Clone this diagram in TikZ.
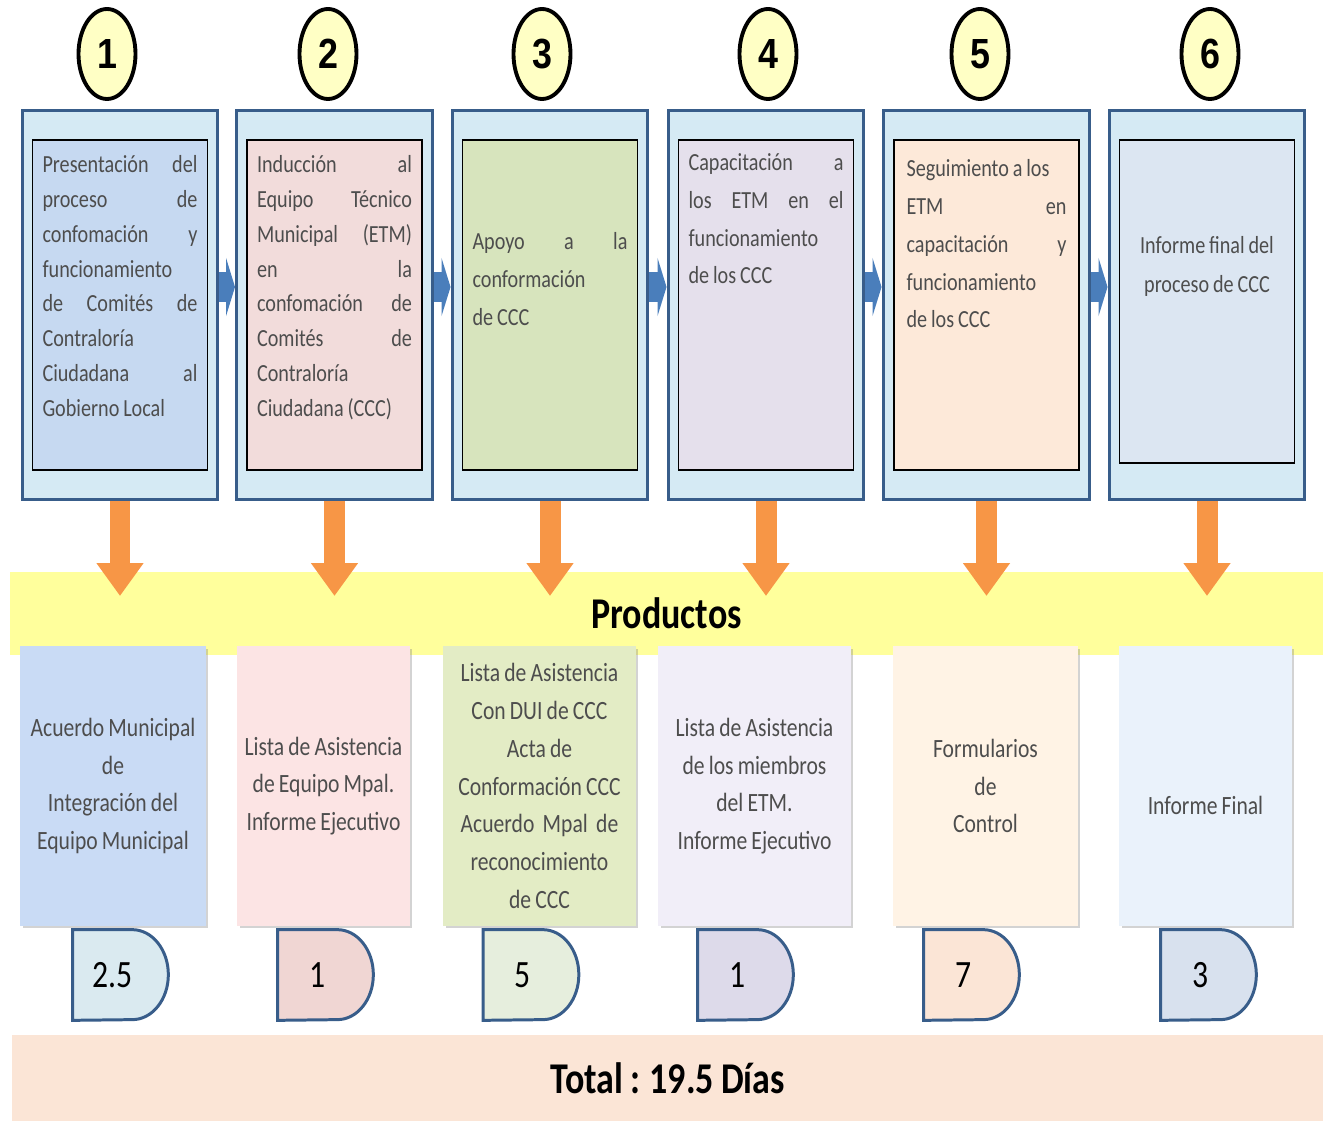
\documentclass[tikz,border=0pt]{standalone}
\usepackage{fontspec}
\setmainfont{Carlito}[FakeStretch=0.82,WordSpace=0.85]
\newfontfamily\numfont{Liberation Sans}[FakeStretch=0.85]
\usetikzlibrary{positioning}
\usetikzlibrary{shapes.geometric}
\usetikzlibrary{arrows.meta}
\usetikzlibrary{shadows}
\definecolor{celeste}{HTML}{D5EAF4}
\definecolor{azulO}{HTML}{385D8A}
\definecolor{azulF}{HTML}{4A7EBB}
\definecolor{amarilloC}{HTML}{FFFFC5}
\definecolor{amarilloB}{HTML}{FFFF9C}
\definecolor{naranja}{HTML}{F79646}
\definecolor{durazno}{HTML}{FBE5D6}
\definecolor{grisT}{HTML}{4D4D4D}
\definecolor{int1}{HTML}{C6D9F1}
\definecolor{int2}{HTML}{F2DCDB}
\definecolor{int3}{HTML}{D7E4BD}
\definecolor{int4}{HTML}{E5E0EC}
\definecolor{int5}{HTML}{FDE9D9}
\definecolor{int6}{HTML}{DCE6F2}
\definecolor{prod1}{HTML}{C9DBF5}
\definecolor{prod2}{HTML}{FCE4E4}
\definecolor{prod3}{HTML}{E3ECC5}
\definecolor{prod4}{HTML}{F1EEF8}
\definecolor{prod5}{HTML}{FFF3E5}
\definecolor{prod6}{HTML}{EAF2FB}
\definecolor{dia1}{HTML}{DAEAF0}
\definecolor{dia2}{HTML}{F0D6D3}
\definecolor{dia3}{HTML}{E6EEDD}
\definecolor{dia4}{HTML}{DDDAEA}
\definecolor{dia5}{HTML}{FBE5D6}
\definecolor{dia6}{HTML}{D8E1EE}

\begin{document}
\begin{tikzpicture}[x=0.02cm,y=-0.02cm,
circulo/.style={draw,ellipse,line width=2.2pt,fill=amarilloC,minimum width=1.14cm,minimum height=1.8cm,inner sep=0pt,font=\numfont\bfseries\fontsize{24}{24}\selectfont},
externo/.style={draw=azulO,line width=1.7pt,fill=celeste,minimum width=3.92cm,minimum height=7.8cm},
interno/.style={draw=black,line width=0.8pt,minimum width=3.5cm,minimum height=6.6cm},
texto/.style={text width=3.1cm,align=flush left,anchor=north,inner sep=0pt,text=grisT,font=\fontsize{14}{19.8}\selectfont},
producto/.style={minimum height=5.6cm,align=center,text=grisT,font=\fontsize{15}{21.5}\selectfont,drop shadow={opacity=0.35,shadow xshift=0.05cm,shadow yshift=-0.05cm}},
dias/.style={minimum width=1.9cm,minimum height=1.8cm,inner sep=0pt},
borde/.style={draw=azulO,line width=1.7pt},
numdia/.style={font=\fontsize{22}{22}\selectfont},
franja/.style={inner sep=0pt,font=\bfseries\fontsize{25}{25}\selectfont},
flechaA/.style={line width=0.6cm,draw=azulF,-{Triangle[length=0.18cm,width=1.16cm]}},
flechaN/.style={line width=0.42cm,draw=naranja,-{Triangle[length=0.66cm,width=0.9cm]}}
]
\useasboundingbox (0,0) rectangle (1323,1121);
%-- pasos
\node[circulo](c1) at (107,54){1};
\node[circulo](c2) at (328,54){2};
\node[circulo](c3) at (542,54){3};
\node[circulo](c4) at (768,54){4};
\node[circulo](c5) at (980,54){5};
\node[circulo](c6) at (1210,54){6};
%--
\node[externo](o1) at (120,305){};
\node[interno,fill=int1](i1) at (o1){};
\node[texto] at ([yshift=-0.32cm]i1.north){Presentación\hfill del\\ proceso\hfill de\\ confomación\hfill y\\ funcionamiento\\ de\hfill Comités\hfill de\\ Contraloría\\ Ciudadana\hfill al\\ Gobierno Local};
%--
\node[externo](o2) at (334.5,305){};
\node[interno,fill=int2](i2) at (o2){};
\node[texto] at ([yshift=-0.32cm]i2.north){Inducción\hfill al\\ Equipo\hfill Técnico\\ Municipal\hfill (ETM)\\ en\hfill la\\ confomación\hfill de\\ Comités\hfill de\\ Contraloría\\ Ciudadana (CCC)};
%--
\node[externo](o3) at (550,305){};
\node[interno,fill=int3](i3) at (o3){};
\node[texto,font=\fontsize{14}{21.5}\selectfont] at ([yshift=-1.86cm]i3.north){Apoyo\hfill a\hfill la\\ conformación\\ de CCC};
%--
\node[externo](o4) at (766,305){};
\node[interno,fill=int4](i4) at (o4){};
\node[texto,font=\fontsize{14}{21.5}\selectfont] at ([yshift=-0.28cm]i4.north){Capacitación\hfill a\\ los\hfill ETM\hfill en\hfill el\\ funcionamiento\\ de los CCC};
%--
\node[externo,minimum width=4.14cm](o5) at (986.5,305){};
\node[interno,fill=int5,minimum width=3.7cm](i5) at (o5){};
\node[texto,text width=3.2cm,font=\fontsize{14}{21.5}\selectfont] at ([yshift=-0.4cm]i5.north){Seguimiento a los\\ ETM\hfill en\\ capacitación\hfill y\\ funcionamiento\\ de los CCC};
%--
\node[externo](o6) at (1207,305){};
\node[interno,fill=int6,minimum height=6.46cm,yshift=0.07cm](i6) at (o6){};
\node[texto,align=flush center,font=\fontsize{14}{22}\selectfont] at ([yshift=-1.94cm]i6.north){Informe final del\\ proceso de CCC};
%-- flechas entre pasos
\draw[flechaA] ([yshift=0.36cm]o1.east) -- ([yshift=0.36cm]o2.west);
\draw[flechaA] ([yshift=0.36cm]o2.east) -- ([yshift=0.36cm]o3.west);
\draw[flechaA] ([yshift=0.36cm]o3.east) -- ([yshift=0.36cm]o4.west);
\draw[flechaA] ([yshift=0.36cm]o4.east) -- ([yshift=0.36cm]o5.west);
\draw[flechaA] ([yshift=0.36cm]o5.east) -- ([yshift=0.36cm]o6.west);
%-- productos
\node[franja,fill=amarilloB,minimum width=26.26cm,minimum height=1.66cm](prod) at (666.5,613.5){Productos};
\coordinate (puntas) at (0,596);
\draw[flechaN] (o1.south) -- (o1.south |- puntas);
\draw[flechaN] (o2.south) -- (o2.south |- puntas);
\draw[flechaN] (o3.south) -- (o3.south |- puntas);
\draw[flechaN] (o4.south) -- (o4.south |- puntas);
\draw[flechaN] (o5.south) -- (o5.south |- puntas);
\draw[flechaN] (o6.south) -- (o6.south |- puntas);
%--
\node[producto,fill=prod1,minimum width=3.72cm](p1) at (113,786){Acuerdo Municipal\\ de\\ Integración del\\ Equipo Municipal};
\node[producto,fill=prod2,minimum width=3.46cm](p2) at (323.5,786){Lista de Asistencia\\ de Equipo Mpal.\\ Informe Ejecutivo};
\node[producto,fill=prod3,minimum width=3.86cm](p3) at (539.5,786){Lista de Asistencia\\ Con DUI de CCC\\ Acta de\\ Conformación CCC\\ Acuerdo\ \ Mpal\ \ de\\ reconocimiento\\ de CCC};
\node[producto,fill=prod4,minimum width=3.86cm](p4) at (754.5,786){Lista de Asistencia\\ de los miembros\\ del ETM.\\ Informe Ejecutivo};
\node[producto,fill=prod5,minimum width=3.7cm](p5) at (985.5,786){Formularios\\ de\\ Control};
\node[producto,fill=prod6,minimum width=3.46cm](p6) at (1205.5,786){};
\node[text=grisT,font=\fontsize{15}{21.5}\selectfont] at ([yshift=-0.38cm]p6.center){Informe Final};
%-- dias
\node[dias](d1) at (120.5,975){};
\draw[borde,fill=dia1] (d1.north west) -- ([xshift=-0.72cm]d1.north east) arc[start angle=90,end angle=-90,x radius=0.72cm,y radius=0.9cm] -- (d1.south west) -- cycle;
\node[numdia] at ([xshift=-0.16cm]d1.center){2.5};
\node[dias](d2) at (325.5,975){};
\draw[borde,fill=dia2] (d2.north west) -- ([xshift=-0.72cm]d2.north east) arc[start angle=90,end angle=-90,x radius=0.72cm,y radius=0.9cm] -- (d2.south west) -- cycle;
\node[numdia] at ([xshift=-0.16cm]d2.center){1};
\node[dias](d3) at (531,975){};
\draw[borde,fill=dia3] (d3.north west) -- ([xshift=-0.72cm]d3.north east) arc[start angle=90,end angle=-90,x radius=0.72cm,y radius=0.9cm] -- (d3.south west) -- cycle;
\node[numdia] at ([xshift=-0.16cm]d3.center){5};
\node[dias](d4) at (745.5,975){};
\draw[borde,fill=dia4] (d4.north west) -- ([xshift=-0.72cm]d4.north east) arc[start angle=90,end angle=-90,x radius=0.72cm,y radius=0.9cm] -- (d4.south west) -- cycle;
\node[numdia] at ([xshift=-0.16cm]d4.center){1};
\node[dias](d5) at (971.5,975){};
\draw[borde,fill=dia5] (d5.north west) -- ([xshift=-0.72cm]d5.north east) arc[start angle=90,end angle=-90,x radius=0.72cm,y radius=0.9cm] -- (d5.south west) -- cycle;
\node[numdia] at ([xshift=-0.16cm]d5.center){7};
\node[dias](d6) at (1208.5,975){};
\draw[borde,fill=dia6] (d6.north west) -- ([xshift=-0.72cm]d6.north east) arc[start angle=90,end angle=-90,x radius=0.72cm,y radius=0.9cm] -- (d6.south west) -- cycle;
\node[numdia] at ([xshift=-0.16cm]d6.center){3};
%--
\node[franja,fill=durazno,minimum width=26.22cm,minimum height=1.72cm](total) at (667.5,1078){Total : 19.5 Días};
\end{tikzpicture}
\end{document}
